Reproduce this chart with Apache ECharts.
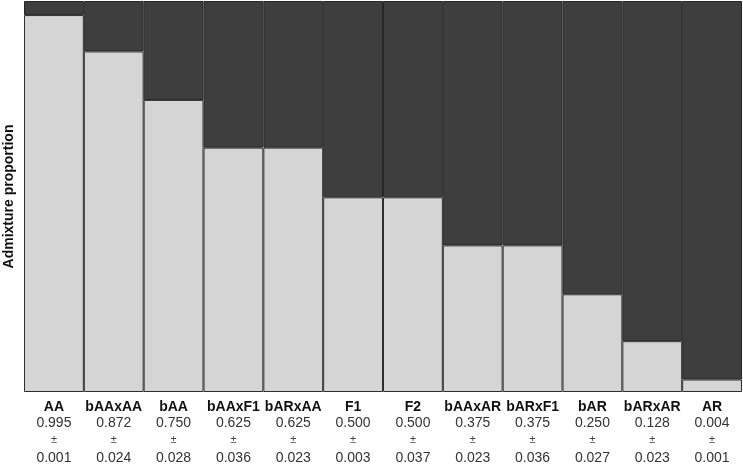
<!DOCTYPE html>
<html>
<head>
<meta charset="utf-8">
<script src="https://cdn.jsdelivr.net/npm/echarts@6/dist/echarts.min.js"></script>
<style>
html,body{margin:0;padding:0;background:#fff;}
#main{width:743px;height:466px;}
</style>
</head>
<body>
<div id="main"></div>
<script>
// groups, mean admixture and sd as printed under the bars
var groups=['AA','bAAxAA','bAA','bAAxF1','bARxAA','F1','F2','bAAxAR','bARxF1','bAR','bARxAR','AR'];
var means=['0.995','0.872','0.750','0.625','0.625','0.500','0.500','0.375','0.375','0.250','0.128','0.004'];
var sds=['0.001','0.024','0.028','0.036','0.023','0.003','0.037','0.023','0.036','0.027','0.023','0.001'];
// bar heights as drawn (light = lower part, dark = upper part)
var lightPart=[0.964,0.871,0.747,0.625,0.625,0.498,0.498,0.375,0.375,0.250,0.130,0.032];
var darkPart=[0.036,0.129,0.253,0.375,0.375,0.502,0.502,0.625,0.625,0.750,0.870,0.968];

var app=echarts.init(document.getElementById('main'));
var option={
    backgroundColor:'#fff',
    animation:false,
    textStyle:{fontFamily:'Liberation Sans, Arial, sans-serif'},
    grid:{left:24,right:1,top:1,bottom:74,outerBoundsMode:'none',containLabel:false},
    xAxis:{
        type:'category',
        data:groups,
        axisLine:{show:false},
        axisTick:{show:false},
        axisLabel:{
            interval:0,
            margin:7,
            formatter:function(v,i){
                return '{a|'+v+'}\n{b|'+means[i]+'}\n{c|±}\n{d|'+sds[i]+'}';
            },
            rich:{
                a:{fontSize:14,fontWeight:'bold',color:'#111',lineHeight:16,fontFamily:'Liberation Sans'},
                b:{fontSize:14,color:'#333',lineHeight:16,fontFamily:'Liberation Sans'},
                c:{fontSize:11,color:'#444',lineHeight:18,fontFamily:'Liberation Sans'},
                d:{fontSize:14,color:'#333',lineHeight:18,fontFamily:'Liberation Sans'}
            }
        }
    },
    yAxis:{
        type:'value',
        min:0,max:1,
        name:'Admixture proportion',
        nameLocation:'middle',
        nameGap:8,
        nameTextStyle:{fontSize:14,fontWeight:'bold',color:'#111',fontFamily:'Liberation Sans'},
        axisLine:{show:false},
        axisTick:{show:false},
        axisLabel:{show:false},
        splitLine:{show:false}
    },
    series:[{
        type:'bar',
        stack:'all',
        data:lightPart,
        barWidth:'100%',
        barCategoryGap:0,
        itemStyle:{color:'#d5d5d5',borderColor:'#2e2e2e',borderWidth:1}
    },{
        type:'bar',
        stack:'all',
        data:darkPart,
        barWidth:'100%',
        itemStyle:{color:'#3e3e3e',borderColor:'#262626',borderWidth:1}
    }]
};
app.setOption(option);
</script>
</body>
</html>
